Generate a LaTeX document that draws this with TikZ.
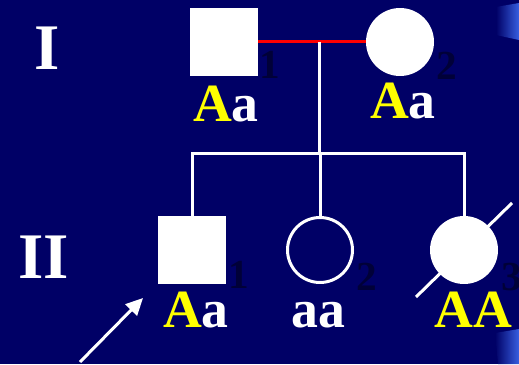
\documentclass[tikz,border=0pt]{standalone}
\usepackage{fontspec}
\setmainfont{Liberation Serif}
\usetikzlibrary{arrows.meta}
\definecolor{slidebg}{RGB}{0,0,102}
\definecolor{numdark}{RGB}{0,0,56}
\definecolor{streak}{RGB}{55,95,225}
\definecolor{gold}{RGB}{255,255,0}
\tikzset{
  male/.style={rectangle,fill=white,minimum size=1.36cm,inner sep=0pt},
  female/.style={circle,fill=white,minimum size=1.36cm,inner sep=0pt},
  femaleopen/.style={circle,draw=white,line width=0.06cm,minimum size=1.3cm,inner sep=0pt},
  gen/.style={text=white,font=\bfseries\fontsize{37}{40}\selectfont,anchor=base,inner sep=0pt},
  geno/.style={text=white,font=\bfseries\fontsize{30.6}{34}\selectfont,anchor=base,inner sep=0pt},
  num/.style={text=numdark,font=\bfseries\fontsize{23.5}{26}\selectfont,anchor=base,inner sep=0pt},
  line/.style={white,line width=0.06cm},
}
\begin{document}
\begin{tikzpicture}[x=0.02cm,y=-0.02cm]
			\useasboundingbox (0,0) rectangle (519,364);
			\clip (0,0) rectangle (519,364);
			\fill[slidebg] (0,0) rectangle (519,364);
			\shade[left color=slidebg,right color=streak] (496,7)--(519,3)--(519,40)--(496,35)--cycle;
			\shade[left color=slidebg,right color=streak] (495,333)--(519,329)--(519,364)--(498,364)--cycle;
			\node[gen] (g1) at (47,70) {I};
			\node[gen] (g2) at (44,278) {II};
			\node[male] (m1) at (224,42) {};
			\node[female] (f2) at (400,42) {};
			\node[num] (n11) at (270,79) {1};
			\node[num] (n12) at (447,80) {2};
			\node[geno] (a11) at (226,122) {\textcolor{gold}{A}a};
			\node[geno] (a12) at (403,119) {\textcolor{gold}{A}a};
			\draw[red,line width=0.06cm] (m1.east)--(f2.west);
			\coordinate (mate) at (319,42);
			\coordinate (sib) at (319,154);
			\draw[line] (mate)--(sib);
			\node[male] (s1) at (192,250) {};
			\node[femaleopen] (d2) at (320,250) {};
			\node[female] (d3) at (464,250) {};
			\draw[line] (s1.north)--(s1.north |- sib)--(d3.north |- sib)--(d3.north);
			\draw[line] (d2.north)--(d2.north |- sib);
			\coordinate (sl1) at (416,297);
			\coordinate (sl2) at (512,203);
			\draw[line] (sl1)--(sl2);
			\node[num] (n21) at (239,288) {1};
			\node[num] (n22) at (367,290) {2};
			\node[num] (n23) at (512,290) {3};
			\node[geno] (a21) at (196,327) {\textcolor{gold}{A}a};
			\node[geno] (a22) at (318,327) {aa};
			\node[geno,text=gold] (a23) at (473,327) {AA};
			\coordinate (ptail) at (80,362);
			\coordinate (ptip) at (143,298);
			\draw[line,-{Triangle[length=0.34cm,width=0.32cm]}] (ptail)--(ptip);
		\end{tikzpicture}
\end{document}
